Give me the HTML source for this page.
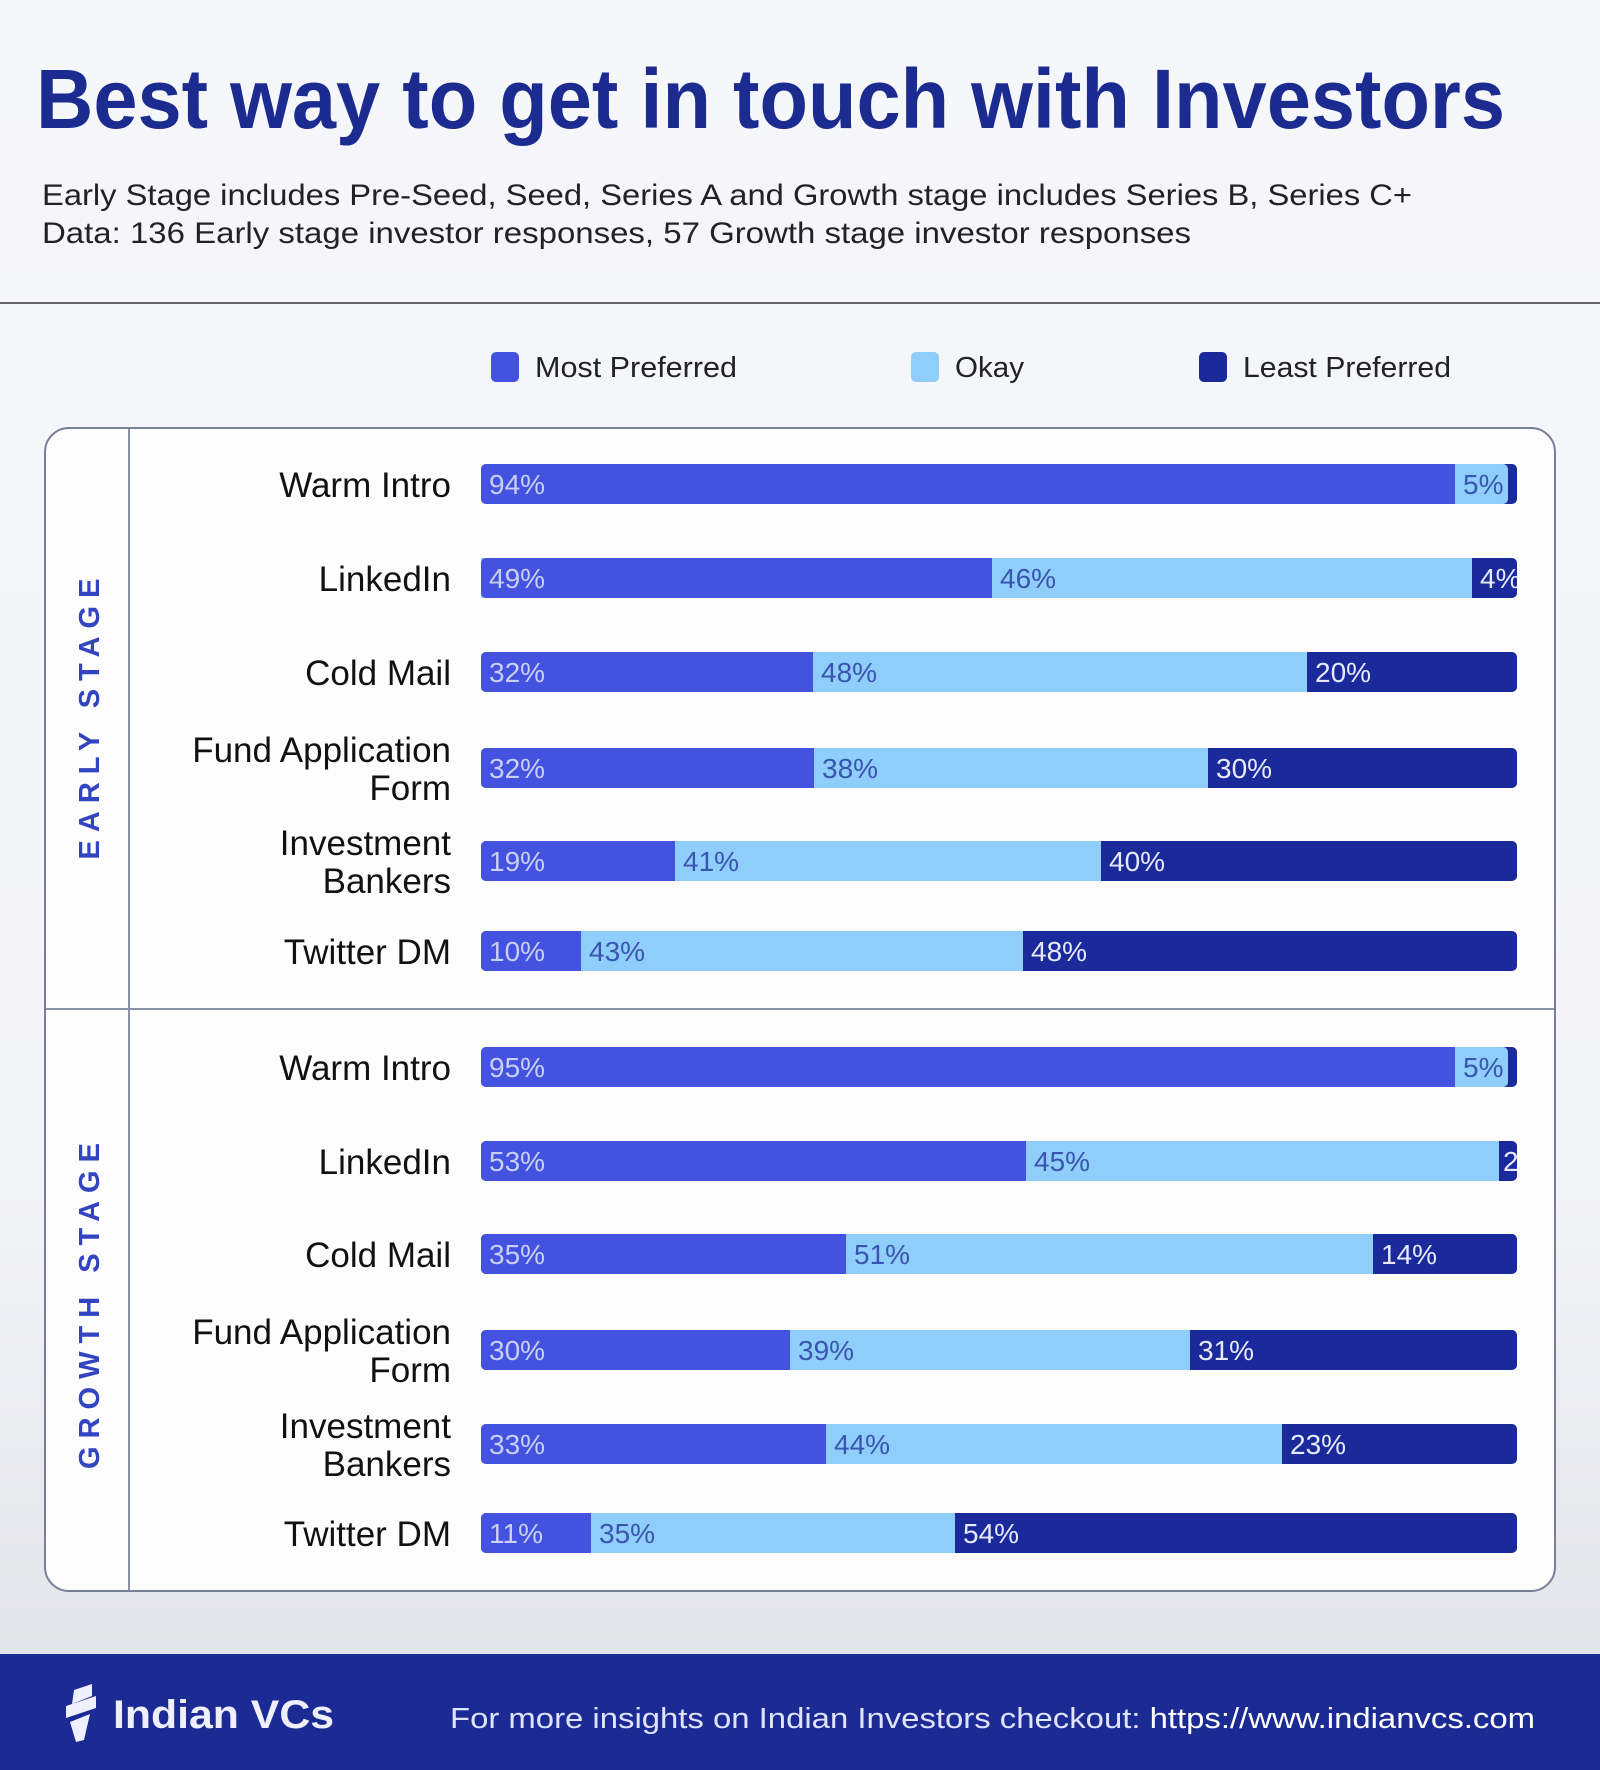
<!DOCTYPE html>
<html><head><meta charset="utf-8"><style>
html,body{margin:0;padding:0;width:1600px;height:1770px;overflow:hidden;background:#f5f6fa}
svg{display:block}
</style></head><body>
<svg width="1600" height="1770" viewBox="0 0 1600 1770" xmlns="http://www.w3.org/2000/svg" font-family="Liberation Sans, sans-serif">
<defs>
<linearGradient id="bg" x1="0" y1="0" x2="0" y2="1">
<stop offset="0" stop-color="#f6f7fb"/><stop offset="0.7" stop-color="#f3f4f8"/><stop offset="1" stop-color="#e4e5ea"/>
</linearGradient>
<clipPath id="bc"><rect x="481" y="0" width="1036" height="1770"/></clipPath>
</defs>
<rect width="1600" height="1654" fill="url(#bg)"/>
<text x="36" y="128" font-size="84" font-weight="bold" fill="#1b2b8f" textLength="1469" lengthAdjust="spacingAndGlyphs">Best way to get in touch with Investors</text>
<text x="42" y="205" font-size="30" fill="#222" textLength="1370" lengthAdjust="spacingAndGlyphs">Early Stage includes Pre-Seed, Seed, Series A and Growth stage includes Series B, Series C+</text>
<text x="42" y="243" font-size="30" fill="#222" textLength="1149" lengthAdjust="spacingAndGlyphs">Data: 136 Early stage investor responses, 57 Growth stage investor responses</text>
<rect x="0" y="302" width="1600" height="2" fill="#666"/>
<rect x="491" y="352" width="28" height="30" rx="5" fill="#4353e0"/>
<text x="535" y="377" font-size="29" fill="#222" textLength="202" lengthAdjust="spacingAndGlyphs">Most Preferred</text>
<rect x="911" y="352" width="28" height="30" rx="5" fill="#8fcdfa"/>
<text x="955" y="377" font-size="29" fill="#222" textLength="69" lengthAdjust="spacingAndGlyphs">Okay</text>
<rect x="1199" y="352" width="28" height="30" rx="5" fill="#1b2a9a"/>
<text x="1243" y="377" font-size="29" fill="#222" textLength="208" lengthAdjust="spacingAndGlyphs">Least Preferred</text>
<rect x="45" y="428" width="1510" height="1163" rx="24" fill="#fdfdfe" stroke="#7a7f99" stroke-width="2"/>
<line x1="129" y1="429" x2="129" y2="1590" stroke="#8a8fa8" stroke-width="2"/>
<line x1="46" y1="1009" x2="1554" y2="1009" stroke="#8a8fa8" stroke-width="2"/>
<text transform="translate(99,715) rotate(-90)" text-anchor="middle" font-size="29" font-weight="bold" fill="#3344c0" letter-spacing="8">EARLY STAGE</text>
<text transform="translate(99,1302) rotate(-90)" text-anchor="middle" font-size="29" font-weight="bold" fill="#3344c0" letter-spacing="8">GROWTH STAGE</text>
<g font-size="35" fill="#111" text-anchor="end">
<text x="451" y="497">Warm Intro</text>
<text x="451" y="591">LinkedIn</text>
<text x="451" y="685">Cold Mail</text>
<text x="451" y="762">Fund Application</text><text x="451" y="800">Form</text>
<text x="451" y="855">Investment</text><text x="451" y="893">Bankers</text>
<text x="451" y="964">Twitter DM</text>
<text x="451" y="1080">Warm Intro</text>
<text x="451" y="1174">LinkedIn</text>
<text x="451" y="1267">Cold Mail</text>
<text x="451" y="1344">Fund Application</text><text x="451" y="1382">Form</text>
<text x="451" y="1438">Investment</text><text x="451" y="1476">Bankers</text>
<text x="451" y="1546">Twitter DM</text>
</g>
<g clip-path="url(#bc)" font-size="28">
<g transform="translate(0,484)">
<rect x="481" y="-20" width="1036" height="40" rx="5" fill="#1b2a9a"/><rect x="481" y="-20" width="1027" height="40" rx="5" fill="#8fcdfa"/><rect x="481" y="-20" width="974" height="40" rx="5" fill="#4353e0"/><rect x="1450" y="-20" width="5" height="40" fill="#4353e0"/>
<text x="489" y="10" fill="#c9cff7">94%</text><text x="1463" y="10" fill="#3a55b0">5%</text></g>
<g transform="translate(0,578)">
<rect x="481" y="-20" width="1036" height="40" rx="5" fill="#1b2a9a"/><rect x="481" y="-20" width="991" height="40" fill="#8fcdfa"/><rect x="481" y="-20" width="511" height="40" rx="5" fill="#4353e0"/><rect x="980" y="-20" width="12" height="40" fill="#4353e0"/>
<text x="489" y="10" fill="#c9cff7">49%</text><text x="1000" y="10" fill="#3a55b0">46%</text><text x="1480" y="10" fill="#e6e9ff">4%</text></g>
<g transform="translate(0,672)">
<rect x="481" y="-20" width="1036" height="40" rx="5" fill="#1b2a9a"/><rect x="486" y="-20" width="821" height="40" fill="#8fcdfa"/><rect x="481" y="-20" width="332" height="40" rx="5" fill="#4353e0"/><rect x="800" y="-20" width="13" height="40" fill="#4353e0"/>
<text x="489" y="10" fill="#c9cff7">32%</text><text x="821" y="10" fill="#3a55b0">48%</text><text x="1315" y="10" fill="#e6e9ff">20%</text></g>
<g transform="translate(0,768)">
<rect x="481" y="-20" width="1036" height="40" rx="5" fill="#1b2a9a"/><rect x="486" y="-20" width="722" height="40" fill="#8fcdfa"/><rect x="481" y="-20" width="333" height="40" rx="5" fill="#4353e0"/><rect x="800" y="-20" width="14" height="40" fill="#4353e0"/>
<text x="489" y="10" fill="#c9cff7">32%</text><text x="822" y="10" fill="#3a55b0">38%</text><text x="1216" y="10" fill="#e6e9ff">30%</text></g>
<g transform="translate(0,861)">
<rect x="481" y="-20" width="1036" height="40" rx="5" fill="#1b2a9a"/><rect x="486" y="-20" width="615" height="40" fill="#8fcdfa"/><rect x="481" y="-20" width="194" height="40" rx="5" fill="#4353e0"/><rect x="660" y="-20" width="15" height="40" fill="#4353e0"/>
<text x="489" y="10" fill="#c9cff7">19%</text><text x="683" y="10" fill="#3a55b0">41%</text><text x="1109" y="10" fill="#e6e9ff">40%</text></g>
<g transform="translate(0,951)">
<rect x="481" y="-20" width="1036" height="40" rx="5" fill="#1b2a9a"/><rect x="486" y="-20" width="537" height="40" fill="#8fcdfa"/><rect x="481" y="-20" width="100" height="40" rx="5" fill="#4353e0"/><rect x="570" y="-20" width="11" height="40" fill="#4353e0"/>
<text x="489" y="10" fill="#c9cff7">10%</text><text x="589" y="10" fill="#3a55b0">43%</text><text x="1031" y="10" fill="#e6e9ff">48%</text></g>
<g transform="translate(0,1067)">
<rect x="481" y="-20" width="1036" height="40" rx="5" fill="#1b2a9a"/><rect x="481" y="-20" width="1027" height="40" rx="5" fill="#8fcdfa"/><rect x="481" y="-20" width="974" height="40" rx="5" fill="#4353e0"/><rect x="1450" y="-20" width="5" height="40" fill="#4353e0"/>
<text x="489" y="10" fill="#c9cff7">95%</text><text x="1463" y="10" fill="#3a55b0">5%</text></g>
<g transform="translate(0,1161)">
<rect x="481" y="-20" width="1036" height="40" rx="5" fill="#1b2a9a"/><rect x="486" y="-20" width="1013" height="40" fill="#8fcdfa"/><rect x="481" y="-20" width="545" height="40" rx="5" fill="#4353e0"/><rect x="1010" y="-20" width="16" height="40" fill="#4353e0"/>
<text x="489" y="10" fill="#c9cff7">53%</text><text x="1034" y="10" fill="#3a55b0">45%</text><text x="1503" y="10" fill="#e6e9ff">2%</text></g>
<g transform="translate(0,1254)">
<rect x="481" y="-20" width="1036" height="40" rx="5" fill="#1b2a9a"/><rect x="486" y="-20" width="887" height="40" fill="#8fcdfa"/><rect x="481" y="-20" width="365" height="40" rx="5" fill="#4353e0"/><rect x="830" y="-20" width="16" height="40" fill="#4353e0"/>
<text x="489" y="10" fill="#c9cff7">35%</text><text x="854" y="10" fill="#3a55b0">51%</text><text x="1381" y="10" fill="#e6e9ff">14%</text></g>
<g transform="translate(0,1350)">
<rect x="481" y="-20" width="1036" height="40" rx="5" fill="#1b2a9a"/><rect x="486" y="-20" width="704" height="40" fill="#8fcdfa"/><rect x="481" y="-20" width="309" height="40" rx="5" fill="#4353e0"/><rect x="780" y="-20" width="10" height="40" fill="#4353e0"/>
<text x="489" y="10" fill="#c9cff7">30%</text><text x="798" y="10" fill="#3a55b0">39%</text><text x="1198" y="10" fill="#e6e9ff">31%</text></g>
<g transform="translate(0,1444)">
<rect x="481" y="-20" width="1036" height="40" rx="5" fill="#1b2a9a"/><rect x="486" y="-20" width="796" height="40" fill="#8fcdfa"/><rect x="481" y="-20" width="345" height="40" rx="5" fill="#4353e0"/><rect x="810" y="-20" width="16" height="40" fill="#4353e0"/>
<text x="489" y="10" fill="#c9cff7">33%</text><text x="834" y="10" fill="#3a55b0">44%</text><text x="1290" y="10" fill="#e6e9ff">23%</text></g>
<g transform="translate(0,1533)">
<rect x="481" y="-20" width="1036" height="40" rx="5" fill="#1b2a9a"/><rect x="486" y="-20" width="469" height="40" fill="#8fcdfa"/><rect x="481" y="-20" width="110" height="40" rx="5" fill="#4353e0"/><rect x="580" y="-20" width="11" height="40" fill="#4353e0"/>
<text x="489" y="10" fill="#c9cff7">11%</text><text x="599" y="10" fill="#3a55b0">35%</text><text x="963" y="10" fill="#e6e9ff">54%</text></g>
</g>
<rect x="0" y="1654" width="1600" height="116" fill="#1c2b93"/>
<g fill="#eef0ff">
<path d="M74 1690 L92 1684 L92 1696 L72 1704 Z"/>
<path d="M66 1706 L96 1696 L96 1708 L66 1718 Z"/>
<path d="M70 1722 L90 1714 L84 1740 L76 1742 Z"/>
</g>
<text x="113" y="1728" font-size="40" font-weight="bold" fill="#eef0ff" textLength="221" lengthAdjust="spacingAndGlyphs">Indian VCs</text>
<text x="450" y="1728" font-size="29" fill="#dfe3ff" textLength="1085" lengthAdjust="spacingAndGlyphs">For more insights on Indian Investors checkout: <tspan fill="#ffffff">https://www.indianvcs.com</tspan></text>
</svg>
</body></html>
